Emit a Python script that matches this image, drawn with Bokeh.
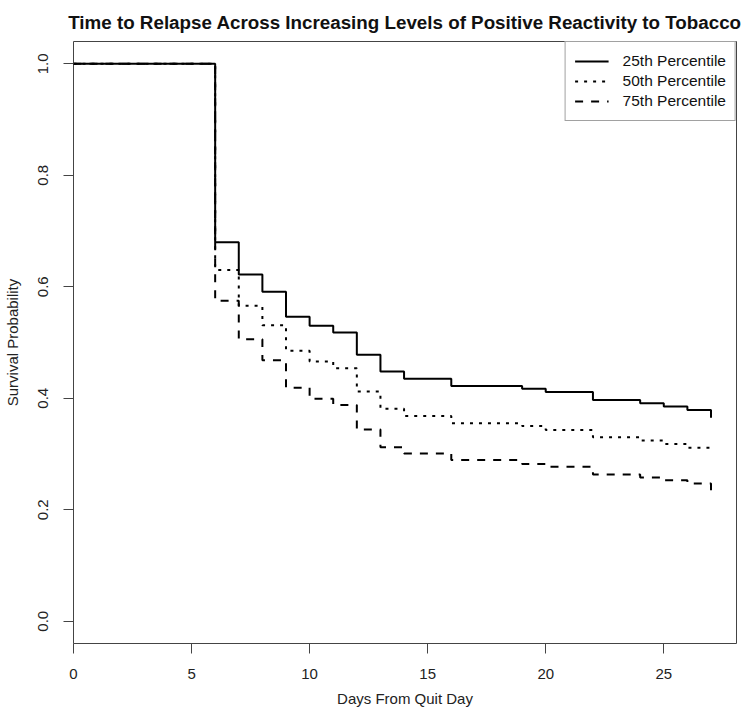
from bokeh.plotting import figure
from bokeh.models import Range1d, FixedTicker, Legend, LegendItem, PrintfTickFormatter
from bokeh.embed import file_html
from bokeh.resources import INLINE

# ---- data ----
days = [0, 6, 7, 8, 9, 10, 11, 12, 13, 14, 16, 19, 20, 22, 24, 25, 26, 27]
surv_25 = [1.0, 0.680, 0.622, 0.591, 0.546, 0.530, 0.518, 0.478, 0.448, 0.435,
           0.422, 0.417, 0.411, 0.397, 0.391, 0.385, 0.379, 0.365]
surv_50 = [1.0, 0.630, 0.566, 0.531, 0.485, 0.466, 0.454, 0.412, 0.381, 0.368,
           0.355, 0.350, 0.343, 0.330, 0.324, 0.318, 0.311, 0.309]
surv_75 = [1.0, 0.575, 0.506, 0.468, 0.419, 0.399, 0.388, 0.344, 0.312, 0.301,
           0.289, 0.282, 0.277, 0.263, 0.258, 0.253, 0.247, 0.233]
series_labels = ["25th Percentile", "50th Percentile", "75th Percentile"]
x_ticks = [0, 5, 10, 15, 20, 25]
y_ticks = [0.0, 0.2, 0.4, 0.6, 0.8, 1.0]

FONT = "Liberation Sans"

p = figure(width=742, height=709, output_backend="svg", toolbar_location=None,
           x_range=Range1d(0, 28.08), y_range=Range1d(-0.04, 1.04),
           min_border_left=72, min_border_right=6, min_border_top=41,
           min_border_bottom=64,
           title="Time to Relapse Across Increasing Levels of Positive Reactivity to Tobacco")

p.title.text_font = FONT
p.title.text_font_size = "18.8px"
p.title.text_font_style = "bold"
p.title.align = "center"
p.title.standoff = 18
p.title.text_color = "#111111"

p.xgrid.visible = False
p.ygrid.visible = False
p.outline_line_color = "#444444"
p.outline_line_width = 1
p.background_fill_color = "white"
p.border_fill_color = "white"

for ax in (p.xaxis[0], p.yaxis[0]):
    ax.axis_line_color = None
    ax.major_tick_out = 10
    ax.major_tick_in = 0
    ax.major_tick_line_color = "#444444"
    ax.minor_tick_line_color = None
    ax.major_label_text_font = FONT
    ax.major_label_text_font_size = "15px"
    ax.major_label_text_color = "#222222"
    ax.axis_label_text_font = FONT
    ax.axis_label_text_font_size = "15px"
    ax.axis_label_text_font_style = "normal"
    ax.axis_label_text_color = "#222222"

p.xaxis.ticker = FixedTicker(ticks=x_ticks)
p.yaxis.ticker = FixedTicker(ticks=y_ticks)
p.yaxis.formatter = PrintfTickFormatter(format="%.1f")
p.yaxis.major_label_orientation = "vertical"
p.xaxis.major_label_standoff = 15
p.yaxis.major_label_standoff = 15
p.xaxis.axis_label = "Days From Quit Day"
p.yaxis.axis_label = "Survival Probability"
p.xaxis.axis_label_standoff = 8
p.yaxis.axis_label_standoff = 15

r1 = p.step(days, surv_25, mode="after", line_color="black", line_width=2)
r2 = p.step(days, surv_50, mode="after", line_color="black", line_width=2,
            line_dash="3 6")
r3 = p.step(days, surv_75, mode="after", line_color="black", line_width=2,
            line_dash="8 8")

legend = Legend(items=[LegendItem(label=series_labels[0], renderers=[r1]),
                       LegendItem(label=series_labels[1], renderers=[r2]),
                       LegendItem(label=series_labels[2], renderers=[r3])],
                location="top_right", margin=0, padding=9, spacing=0,
                border_line_color="#444444", border_line_width=1,
                label_text_font=FONT, label_text_font_size="15.5px",
                label_text_color="#111111",
                glyph_width=34, glyph_height=20, label_height=20,
                label_standoff=14, background_fill_alpha=1.0)
p.add_layout(legend)

open("out.html", "w").write(file_html(p, INLINE))
